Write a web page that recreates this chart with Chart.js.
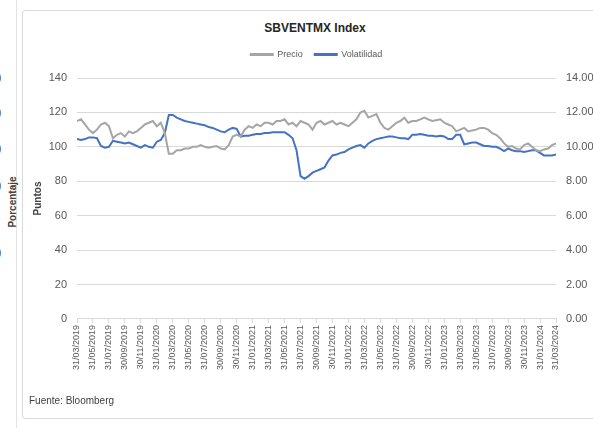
<!DOCTYPE html>
<html>
<head>
<meta charset="utf-8">
<script src="https://cdn.jsdelivr.net/npm/chart.js@4/dist/chart.umd.min.js"></script>
<style>
  html, body { margin: 0; padding: 0; background: #fff; overflow: hidden; }
  body { width: 593px; height: 428px; position: relative; font-family: "Liberation Sans", Arial, sans-serif; }
  #prev { position: absolute; left: 16px; top: 0; width: 1px; height: 428px; background: #e3e3e3; }
  .cut { position: absolute; left: -2px; font-size: 10px; color: #404040; }
  #porc { position: absolute; left: 12px; top: 202px; font-size: 10px; font-weight: bold; color: #404040;
          transform: translate(-50%, -50%) rotate(-90deg); white-space: nowrap; }
  #frame { position: absolute; left: 22px; top: 10px; width: 600px; height: 407px; border: 1px solid #d9d9d9; border-radius: 3px; }
  #titulo { position: absolute; left: 215px; width: 200px; top: 21px; text-align: center; font-size: 12px; font-weight: bold; color: #262626; }
  #wrap { position: absolute; left: 0; top: 0; width: 612px; height: 428px; }
  #fuente { position: absolute; left: 29px; top: 395px; font-size: 10px; color: #404040; }
</style>
</head>
<body>
<div id="prev"></div>
<div class="cut" style="top:72px">)</div>
<div class="cut" style="top:107px">)</div>
<div class="cut" style="top:143px">)</div>
<div class="cut" style="top:180px">)</div>
<div class="cut" style="top:247px">)</div>
<div id="porc">Porcentaje</div>
<div id="frame"></div>
<div id="titulo">SBVENTMX Index</div>
<div id="wrap"><canvas id="myChart" width="612" height="428"></canvas></div>
<div id="fuente">Fuente: Bloomberg</div>
<script>
// months since 31/03/2019, every half month
let meses = [];
for (let i = 0; i <= 120; i++) meses.push(i / 2);

let precio = [115, 116, 113, 110, 108, 110, 113, 114, 112, 105, 107, 108, 106, 109, 108, 109, 111, 113, 114, 115,
  112, 114, 108, 96, 96, 98, 98, 99, 99, 100, 100, 101, 100, 99.5, 100, 100.5, 99, 98.5, 101, 106,
  107, 106, 110, 112, 111, 113, 112, 114, 114, 113, 115, 115, 116, 113, 114, 112, 115, 114, 113, 110,
  114, 115, 113, 114, 115, 113, 114, 113, 112, 114, 116, 120, 121, 117, 118, 119, 114, 111, 110, 112,
  114, 115, 117, 114, 115, 115, 116, 117, 116, 115, 115.5, 116, 114, 113, 112, 109, 110, 111, 109, 109.5,
  110, 111, 111, 110, 108, 107, 105, 102, 100, 100.5, 99, 98.5, 101, 102, 100, 98, 97.5, 98.5, 99, 101, 102];

let volatilidad = [10.45, 10.40, 10.45, 10.55, 10.55, 10.50, 10.05, 9.95, 10.00, 10.35, 10.30, 10.25, 10.20, 10.25, 10.15, 10.05, 9.95, 10.10, 10.00, 9.95,
  10.30, 10.40, 10.80, 11.85, 11.85, 11.70, 11.60, 11.50, 11.45, 11.40, 11.35, 11.30, 11.25, 11.15, 11.10, 11.00, 10.90, 10.85, 11.00, 11.10,
  11.05, 10.60, 10.65, 10.65, 10.70, 10.75, 10.75, 10.80, 10.80, 10.85, 10.85, 10.85, 10.85, 10.70, 10.50, 9.80, 8.30, 8.15, 8.30, 8.50,
  8.60, 8.70, 8.80, 9.20, 9.50, 9.55, 9.65, 9.70, 9.85, 9.95, 10.05, 10.10, 9.95, 10.20, 10.35, 10.45, 10.50, 10.55, 10.60, 10.60,
  10.55, 10.50, 10.50, 10.45, 10.70, 10.70, 10.75, 10.70, 10.65, 10.65, 10.60, 10.65, 10.60, 10.45, 10.45, 10.70, 10.70, 10.15, 10.20, 10.25,
  10.25, 10.15, 10.05, 10.05, 10.00, 10.00, 9.90, 9.75, 9.90, 9.80, 9.75, 9.75, 9.70, 9.75, 9.80, 9.80, 9.65, 9.50, 9.50, 9.50, 9.55];

let fechas = ['31/03/2019', '31/05/2019', '31/07/2019', '30/09/2019', '30/11/2019', '31/01/2020', '31/03/2020', '31/05/2020',
  '31/07/2020', '30/09/2020', '30/11/2020', '31/01/2021', '31/03/2021', '31/05/2021', '31/07/2021', '30/09/2021', '30/11/2021',
  '31/01/2022', '31/03/2022', '31/05/2022', '31/07/2022', '30/09/2022', '30/11/2022', '31/01/2023', '31/03/2023', '31/05/2023',
  '31/07/2023', '30/09/2023', '30/11/2023', '31/01/2024', '31/03/2024'];

let ticksIzq = [0, 20, 40, 60, 80, 100, 120, 140];
let ticksDer = [0, 2, 4, 6, 8, 10, 12, 14];

let gris = '#a5a5a5';
let azul = '#4472c4';
let texto = '#595959';

let ctx = document.getElementById("myChart").getContext('2d');

let chart = new Chart(ctx, {
    type: 'line',
    data: {
        datasets: [{
            label: 'Precio',
            data: meses.map((m, i) => ({ x: m, y: precio[i] })),
            borderColor: gris,
            backgroundColor: gris,
            borderWidth: 2,
            pointRadius: 0,
            yAxisID: 'y'
        }, {
            label: 'Volatilidad',
            data: meses.map((m, i) => ({ x: m, y: volatilidad[i] })),
            borderColor: azul,
            backgroundColor: azul,
            borderWidth: 2,
            pointRadius: 0,
            yAxisID: 'y1'
        }]
    },
    options: {
        responsive: false,
        animation: false,
        layout: { padding: { left: 32, top: 38, bottom: 56, right: 2 } },
        plugins: {
            // empty title used only as a gap between legend and plot
            title: {
                display: true,
                text: '',
                weight: 500,
                fullSize: false,
                font: { size: 1, lineHeight: 1 },
                padding: { top: 0, bottom: 8 }
            },
            legend: {
                display: true,
                fullSize: false,
                labels: {
                    boxWidth: 22,
                    boxHeight: 1,
                    color: texto,
                    font: { family: 'Liberation Sans', size: 9 },
                    padding: 12
                }
            },
            tooltip: { enabled: false }
        },
        scales: {
            x: {
                type: 'linear',
                min: 0,
                max: 60,
                ticks: {
                    stepSize: 2,
                    autoSkip: false,
                    maxRotation: 90,
                    minRotation: 90,
                    color: texto,
                    font: { family: 'Liberation Sans', size: 9 },
                    padding: 2,
                    callback: (v) => fechas[v / 2]
                },
                grid: { drawOnChartArea: false, color: '#d9d9d9', tickLength: 4 },
                border: { color: '#d9d9d9' }
            },
            y: {
                position: 'left',
                min: 0,
                max: 140,
                afterBuildTicks: (axis) => { axis.ticks = ticksIzq.map(v => ({ value: v })); },
                afterFit: (axis) => { axis.width = 45; },
                ticks: {
                    color: texto,
                    font: { family: 'Liberation Sans', size: 11 },
                    padding: 10
                },
                title: {
                    display: true,
                    text: 'Puntos',
                    color: '#404040',
                    font: { family: 'Liberation Sans', size: 10, weight: 'bold' },
                    padding: { top: 0, bottom: 5 }
                },
                grid: { color: '#d9d9d9', drawTicks: false },
                border: { display: false }
            },
            y1: {
                position: 'right',
                min: 0,
                max: 14,
                afterBuildTicks: (axis) => { axis.ticks = ticksDer.map(v => ({ value: v })); },
                afterFit: (axis) => { axis.width = 54; },
                ticks: {
                    color: texto,
                    font: { family: 'Liberation Sans', size: 11 },
                    padding: 10,
                    callback: (v) => v.toFixed(2)
                },
                title: {
                    display: true,
                    text: 'Porcentaje',
                    color: '#404040',
                    font: { family: 'Liberation Sans', size: 10, weight: 'bold' },
                    padding: { top: 4, bottom: 0 }
                },
                grid: { drawOnChartArea: false, drawTicks: false },
                border: { display: false }
            }
        }
    }
});
</script>
</body>
</html>
